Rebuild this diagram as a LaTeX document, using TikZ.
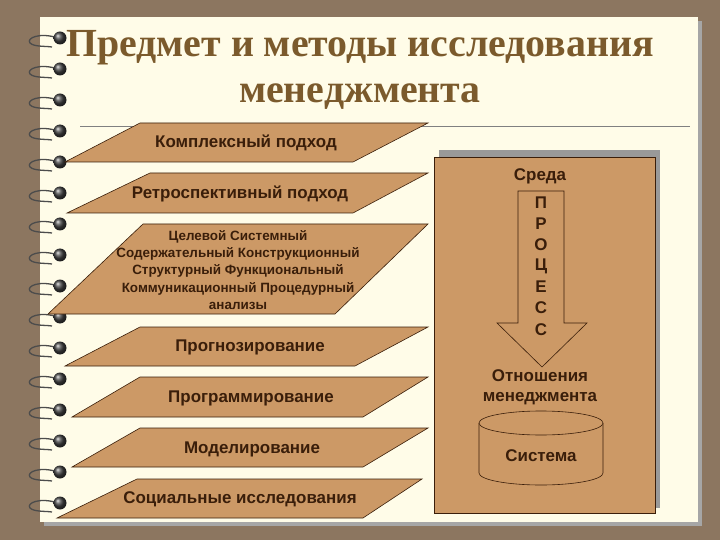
\documentclass[tikz,border=0pt]{standalone}
\usepackage{fontspec}
\setmainfont{Liberation Sans}
\newfontfamily\titlefont{Liberation Serif}
\definecolor{bg}{HTML}{8C7660}
\definecolor{paper}{HTML}{FFFCE8}
\definecolor{tan}{HTML}{CC9966}
\definecolor{ink}{HTML}{3A1E0A}
\definecolor{ttl}{HTML}{7B5A2C}
\tikzset{
  para/.style={draw=ink, fill=tan, line width=0.6bp},
  lbl/.style={text=ink, font=\bfseries\fontsize{17}{20}\selectfont, align=center, inner sep=0},
  small/.style={text=ink, font=\bfseries\fontsize{13.5}{17.5}\selectfont, align=center, inner sep=0},
}
\begin{document}
\begin{tikzpicture}[x=1bp,y=-1bp]
\useasboundingbox (0,0) rectangle (720,540);
\fill[bg] (0,0) rectangle (720,540);
\fill[black!35] (44,21) rectangle (702,526);
\fill[paper] (40,17) rectangle (698,522);
% spiral rings
\foreach \y in {38,69,100,131,162,193,224,255,286,317,348,379,410,441,472,503}{
  \draw[gray!60!black, line width=1.3bp] (58,\y) .. controls (40,\y-6) and (26,\y) .. (30,\y+5) .. controls (34,\y+9) and (46,\y+8) .. (52,\y+9);
  \shade[ball color=black!75] (60,\y) circle (6.5);
}
\node[text=ttl, font=\titlefont\bfseries\fontsize{40}{46}\selectfont, align=center] (title) at (360,70) {Предмет и методы исследования\\менеджмента};
\draw[gray, line width=0.5bp] (80,126) -- (690,126);
% parallelograms
\draw[para] (140,123) -- (428,123) -- (353,162) -- (65,162) -- cycle;
\draw[para] (150,173) -- (428,173) -- (353,213) -- (67,213) -- cycle;
\draw[para] (143,224) -- (428,224) -- (335,314) -- (48,314) -- cycle;
\draw[para] (140,327) -- (428,327) -- (355,366) -- (65,366) -- cycle;
\draw[para] (140,377) -- (428,377) -- (363,417) -- (72,417) -- cycle;
\draw[para] (140,428) -- (428,428) -- (363,467) -- (72,467) -- cycle;
\draw[para] (137,479) -- (422,479) -- (363,518) -- (57,518) -- cycle;
\node[lbl] (p1) at (246,143) {Комплексный подход};
\node[lbl] (p2) at (240,194) {Ретроспективный подход};
\node[small] (p3) at (238,270) {Целевой Системный\\Содержательный Конструкционный\\Структурный Функциональный\\Коммуникационный Процедурный\\анализы};
\node[lbl] (p4) at (250,347) {Прогнозирование};
\node[lbl] (p5) at (251,398) {Программирование};
\node[lbl] (p6) at (252,449) {Моделирование};
\node[lbl] (p7) at (240,499) {Социальные исследования};
% right panel
\fill[black!40] (439,150) rectangle (660,508);
\draw[para] (434,157) rectangle (655,513);
\draw[para] (518,191) -- (564,191) -- (564,323) -- (587,323) -- (542,367) -- (497,323) -- (518,323) -- cycle;
\node[lbl] (env) at (540,176) {Среда};
\foreach \ch/\yy in {П/203,Р/224,О/245,Ц/266,Е/287,С/308,С/330}{
  \node[lbl] at (541,\yy) {\ch};
}
\node[lbl] (rel) at (540,387) {Отношения\\менеджмента};
\draw[para] (479,423) -- (479,473) arc[start angle=180,end angle=0,x radius=62,y radius=12] -- (603,423);
\draw[para] (541,423) ellipse[x radius=62,y radius=12];
\node[lbl] (sys) at (541,456) {Система};
\end{tikzpicture}
\end{document}
